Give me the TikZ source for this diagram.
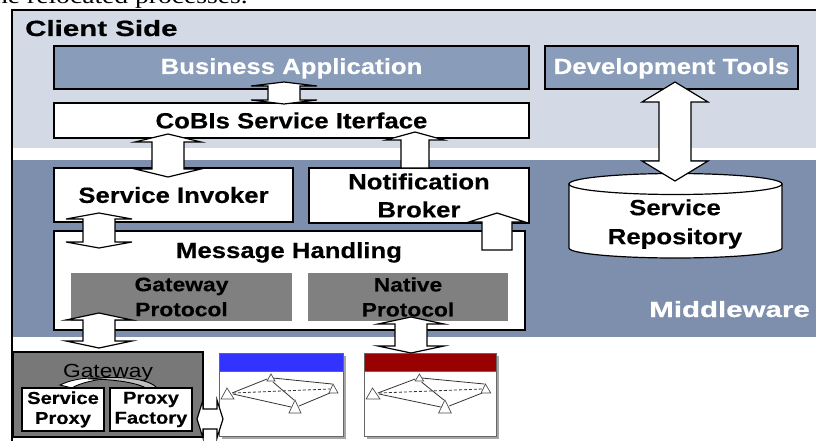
\documentclass[tikz,border=0pt]{standalone}
\usepackage{fontspec}
\usetikzlibrary{calc}
\setmainfont{Liberation Sans}
\newfontfamily\fbold[FakeStretch=1.17,FakeBold=0.3]{Liberation Sans Bold}
\newfontfamily\fwide[FakeStretch=1.34,FakeBold=0.7]{Liberation Sans Bold}
\newfontfamily\freg[FakeStretch=1.2]{Liberation Sans}
\newfontfamily\fserif[FakeStretch=1.2]{Liberation Serif}
\definecolor{clientbg}{RGB}{211,218,229}
\definecolor{midbg}{RGB}{125,143,172}
\definecolor{bizbg}{RGB}{137,157,186}
\definecolor{protogray}{RGB}{128,128,128}
\definecolor{gategray}{RGB}{120,120,120}
\definecolor{winblue}{RGB}{51,51,255}
\definecolor{winred}{RGB}{153,0,0}
\tikzset{
  box/.style={draw=black,line width=1.2pt,fill=white,inner sep=0pt,outer sep=0pt,anchor=north west,align=center,text=black,font=\fbold\fontsize{22}{28}\selectfont},
  bizbox/.style={box,fill=bizbg,text=white},
  smallbox/.style={box,font=\fbold\fontsize{17.2}{20}\selectfont},
  proto/.style={inner sep=0pt,outer sep=0pt,anchor=north west,fill=protogray,align=center,text=black,font=\fbold\fontsize{19.5}{25}\selectfont},
  blockarrow/.style={draw=black,line width=1.2pt,fill=white,line join=miter},
  title/.style={inner sep=0pt,anchor=base,font=\fwide\fontsize{22}{26}\selectfont},
  link/.style={line width=0.8pt,draw=black!80},
  tri/.style={draw=black!70,line width=0.7pt,fill=white},
}
% vertical double block arrow: top tip, bottom tip, shaft half width, head half width, head length
\newcommand{\vdouble}[5]{\draw[blockarrow] (#1) -- ($(#1)+(#4,#5)$) -- ($(#1)+(#3,#5)$) -- ($(#2)+(#3,-#5)$) -- ($(#2)+(#4,-#5)$) -- (#2) -- ($(#2)+(-#4,-#5)$) -- ($(#2)+(-#3,-#5)$) -- ($(#1)+(-#3,#5)$) -- ($(#1)+(-#4,#5)$) -- cycle;}
% vertical single block arrow pointing to the top tip
\newcommand{\vsingle}[5]{\draw[blockarrow] (#1) -- ($(#1)+(#4,#5)$) -- ($(#1)+(#3,#5)$) -- ($(#2)+(#3,0)$) -- ($(#2)+(-#3,0)$) -- ($(#1)+(-#3,#5)$) -- ($(#1)+(-#4,#5)$) -- cycle;}
% horizontal double block arrow
\newcommand{\hdouble}[5]{\draw[blockarrow] (#1) -- ($(#1)+(#5,#4)$) -- ($(#1)+(#5,#3)$) -- ($(#2)+(-#5,#3)$) -- ($(#2)+(-#5,#4)$) -- (#2) -- ($(#2)+(-#5,-#4)$) -- ($(#2)+(-#5,-#3)$) -- ($(#1)+(#5,-#3)$) -- ($(#1)+(#5,-#4)$) -- cycle;}
% small window with a graph: x, y, xscale, title colour
\newcommand{\miniwin}[4]{%
\begin{scope}[shift={(#1,#2)},xscale=#3]
  \fill[black!35] (3,3) rectangle (127,86);
  \draw[black!60,line width=0.8pt,fill=white] (0,0) rectangle (124,83);
  \fill[#4] (0,0) rectangle (124,18);
  \draw[black!60,line width=0.8pt] (0,0) rectangle (124,18);
  \draw[link] (13,40) -- (48,26);
  \draw[link] (54,25) -- (113,31);
  \draw[link] (54,29) -- (75,47);
  \draw[link] (14,41) -- (72,54);
  \draw[link] (80,53) -- (111,40);
  \draw[link,densely dashed] (14,40) -- (111,36);
  \draw[tri] (8,35) -- (2,46) -- (15,46) -- cycle;
  \draw[tri] (52,21) -- (48,28) -- (56,28) -- cycle;
  \draw[tri] (76,47) -- (70,60) -- (82,60) -- cycle;
  \draw[tri] (114,31) -- (110,40) -- (119,40) -- cycle;
\end{scope}}
\begin{document}
\begin{tikzpicture}[x=1pt,y=-1pt]
\useasboundingbox (0,0) rectangle (816,441);
\begin{scope}
\clip (0,0) rectangle (816,441);
\node[inner sep=0pt,anchor=base east,font=\fserif\fontsize{23}{26}\selectfont] (caption) at (248,4) {the relocated processes.};
\fill[clientbg] (12,10) rectangle (816,148);
\fill[midbg] (13,160) rectangle (816,337);
\draw[black,line width=1.6pt] (12,441) -- (12,10) -- (816,10);
\end{scope}

\node[title,anchor=base west] (client) at (25,36) {Client Side};
\node[title,anchor=base east,text=white] (mw) at (810,317) {Middleware};

\node[bizbox,minimum width=475pt,minimum height=43pt,text depth=3pt,text height=16pt] (biz) at (54,46) {Business Application};
\node[bizbox,minimum width=253pt,minimum height=43pt,text depth=3pt,text height=16pt,font=\fbold\fontsize{22}{26}\selectfont] (dev) at (545,46) {Development Tools};
\node[box,minimum width=475pt,minimum height=35pt] (cobis) at (54,103) {CoBIs Service Iterface};
\node[box,minimum width=239pt,minimum height=54pt] (invoker) at (54,168) {Service Invoker};
\node[box,minimum width=220pt,minimum height=55pt] (broker) at (309,168) {Notification\\Broker};
\node[box,minimum width=471pt,minimum height=99pt] (msg) at (54,231) {};
\node[inner sep=0pt,anchor=base,font=\fbold\fontsize{22}{28}\selectfont] (msgtext) at (289,258) {Message Handling};
\node[proto,minimum width=221pt,minimum height=48pt] (gwp) at (71,273) {Gateway\\Protocol};
\node[proto,minimum width=200pt,minimum height=48pt] (nat) at (308,273) {Native\\Protocol};

% repository cylinder
\draw[black,line width=1.2pt,fill=white] (569,184) -- (569,248) .. controls (569,253.5) and (616.7,258) .. (675.5,258) .. controls (734.3,258) and (782,253.5) .. (782,248) -- (782,184) -- cycle;
\draw[black,line width=1.2pt,fill=white] (675.5,184) ellipse [x radius=106.5,y radius=10.5];
\node[inner sep=0pt,align=center,font=\fbold\fontsize{22}{29}\selectfont] (repo) at (675,224) {Service\\Repository};

% gateway
\node[box,fill=gategray,minimum width=190pt,minimum height=85pt] (gw) at (13,352) {};
\node[inner sep=0pt,anchor=base,font=\freg\fontsize{19}{22}\selectfont] (gwtext) at (108,377) {Gateway};
\draw[black,line width=0.9pt,fill=white] (60,385) .. controls (75,378) and (90,377) .. (103,379) .. controls (88,381) and (76,385) .. (72,388) -- cycle;
\draw[black,line width=0.9pt,fill=black!25] (88,379) .. controls (120,375) and (150,379) .. (157,388) -- (146,388) .. controls (135,382) and (110,379) .. (88,379) -- cycle;
\node[smallbox,minimum width=82pt,minimum height=43pt] (sp) at (22,388) {Service\\Proxy};
\node[smallbox,minimum width=82pt,minimum height=43pt] (pf) at (110,388) {Proxy\\Factory};

\miniwin{219}{353}{1}{winblue}
\miniwin{364}{353}{1.065}{winred}

% connector ends
\coordinate (a1t) at (284,82);  \coordinate (a1b) at (284,104);
\coordinate (a2t) at (168,134); \coordinate (a2b) at (168,177);
\coordinate (a3t) at (99,213);  \coordinate (a3b) at (99,248);
\coordinate (a4t) at (415,132); \coordinate (a4b) at (415,168);
\coordinate (a5t) at (497,213); \coordinate (a5b) at (497,250);
\coordinate (a6t) at (675,82);  \coordinate (a6b) at (675,181);
\coordinate (a7t) at (99,313);  \coordinate (a7b) at (99,348);
\coordinate (a8t) at (411,317); \coordinate (a8b) at (411,353);
\coordinate (a9l) at (197,419); \coordinate (a9r) at (223,419);

\vdouble{a1t}{a1b}{16}{33}{4}
\vdouble{a2t}{a2b}{16}{33}{8}
\vdouble{a3t}{a3b}{16}{33}{6}
\vsingle{a4t}{a4b}{14}{29}{8}
\vsingle{a5t}{a5b}{15}{28}{9}
\vdouble{a6t}{a6b}{16}{33}{20}
\vdouble{a7t}{a7b}{16}{33}{7}
\vdouble{a8t}{a8b}{16}{33}{7}
\hdouble{a9l}{a9r}{10}{19}{6}
\end{tikzpicture}
\end{document}
